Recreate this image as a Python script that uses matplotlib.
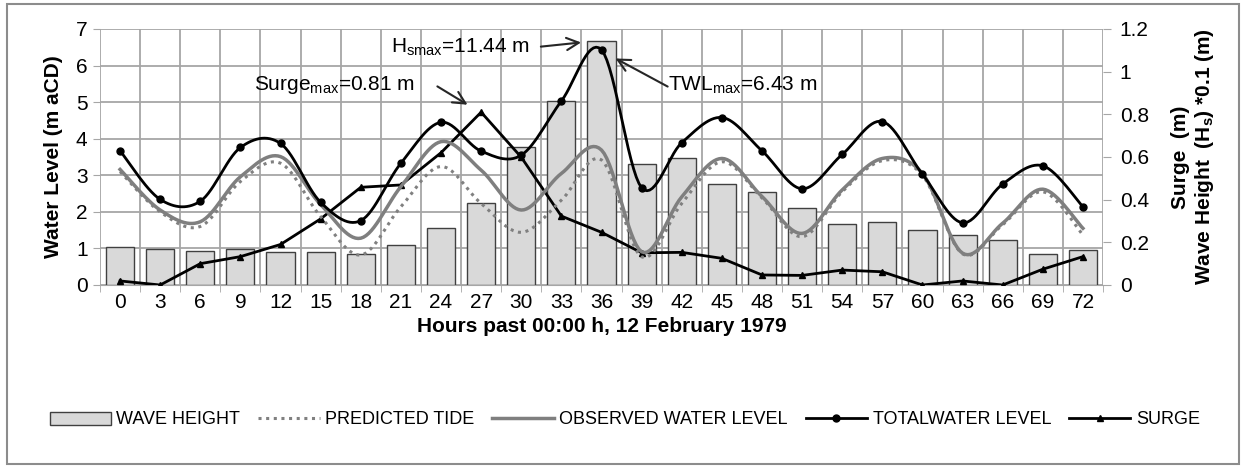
import numpy as np
import matplotlib
matplotlib.use('Agg')
import matplotlib.pyplot as plt
from matplotlib.patches import Patch, Rectangle
from matplotlib.lines import Line2D

plt.rcParams['font.family'] = ['Liberation Sans', 'DejaVu Sans']
plt.rcParams['mathtext.default'] = 'regular'

# hours past 00:00 h, 12 Feb 1979
hours = [0, 3, 6, 9, 12, 15, 18, 21, 24, 27, 30, 33, 36, 39, 42, 45, 48, 51, 54, 57, 60, 63, 66, 69, 72]

# left axis (m aCD)
predicted = [3.10, 2.00, 1.60, 2.83, 3.33, 1.87, 0.82, 2.14, 3.24, 2.23, 1.44, 2.32, 3.42,
             0.77, 2.23, 3.37, 2.38, 1.32, 2.55, 3.40, 3.00, 0.85, 1.65, 2.55, 1.37]
observed = [3.16, 2.05, 1.73, 2.96, 3.51, 2.20, 1.28, 2.69, 3.92, 3.14, 2.05, 3.05, 3.69,
            0.91, 2.41, 3.46, 2.42, 1.41, 2.60, 3.46, 3.05, 0.87, 1.69, 2.62, 1.55]
total = [3.67, 2.34, 2.29, 3.76, 3.87, 2.26, 1.76, 3.33, 4.45, 3.66, 3.55, 5.03, 6.43,
         2.66, 3.89, 4.58, 3.67, 2.63, 3.57, 4.47, 3.03, 1.70, 2.76, 3.26, 2.14]

# right axis (m)
wave = [0.177, 0.167, 0.161, 0.170, 0.156, 0.156, 0.145, 0.188, 0.269, 0.383, 0.645, 0.864, 1.144,
        0.566, 0.594, 0.472, 0.434, 0.362, 0.286, 0.297, 0.259, 0.233, 0.212, 0.145, 0.163]
surge = [0.019, 0.0, 0.100, 0.133, 0.190, 0.310, 0.458, 0.469, 0.620, 0.810, 0.599, 0.323, 0.247,
         0.151, 0.153, 0.125, 0.047, 0.045, 0.070, 0.062, 0.0, 0.019, 0.0, 0.074, 0.133]


def smooth(y, n=16):
    # excel style smoothed line (bezier through the points)
    p = np.column_stack([np.arange(len(y), dtype=float), np.asarray(y, dtype=float)])
    p = np.vstack([p[0], p, p[-1]])
    t = np.linspace(0, 1, n)[:, None]
    out = []
    for i in range(1, len(p) - 2):
        p0, p1, p2, p3 = p[i - 1], p[i], p[i + 1], p[i + 2]
        c1 = p1 + (p2 - p0) / 6
        c2 = p2 - (p3 - p1) / 6
        seg = (1 - t) ** 3 * p1 + 3 * (1 - t) ** 2 * t * c1 + 3 * (1 - t) * t ** 2 * c2 + t ** 3 * p2
        out.append(seg if i == 1 else seg[1:])
    out = np.vstack(out)
    return out[:, 0], out[:, 1]


x = np.arange(len(hours))
fig = plt.figure(figsize=(12.42, 4.67), dpi=100)
rect = [100 / 1242, 1 - 285 / 467, 1003 / 1242, 256 / 467]

ax = fig.add_axes(rect)
ax.set_xlim(-0.5, len(hours) - 0.5)
ax.set_ylim(0, 7)
ax.set_yticks(range(8))
ax.set_xticks(x)
ax.set_xticklabels([str(h) for h in hours])
ax.set_xticks(np.arange(-0.5, len(hours)), minor=True)
ax.grid(True, which='minor', axis='x', color='#a6a6a6', lw=1.3)
ax.grid(True, which='major', axis='y', color='#a6a6a6', lw=1.3)
ax.tick_params(axis='x', which='major', length=0, pad=6, labelsize=15)
ax.tick_params(axis='x', which='minor', length=5, color='#a6a6a6')
ax.tick_params(axis='y', length=5, color='#a6a6a6', labelsize=15, pad=4)
for s in ax.spines.values():
    s.set_visible(False)
ax.spines['bottom'].set_visible(True)
ax.spines['bottom'].set_color('#a6a6a6')
ax.set_ylabel('Water Level (m aCD)', fontsize=15, fontweight='bold', labelpad=9)
ax.set_xlabel('Hours past 00:00 h, 12 February 1979', fontsize=15, fontweight='bold', labelpad=3)

ax2 = ax.twinx()
ax2.set_ylim(0, 1.2)
ax2.set_yticks([0, 0.2, 0.4, 0.6, 0.8, 1.0, 1.2])
ax2.set_yticklabels(['0', '0.2', '0.4', '0.6', '0.8', '1', '1.2'])
ax2.tick_params(axis='y', length=6, color='#a6a6a6', labelsize=15, pad=6)
for s in ax2.spines.values():
    s.set_visible(False)
ax2.bar(x, wave, width=0.7, color='#d9d9d9', edgecolor='#404040', lw=1.0, zorder=2)
ax2.plot(x, surge, color='black', lw=2, marker='^', ms=5, zorder=4)
ax2.set_ylabel('Surge  (m)\nWave Height  ($H_s$) *0.1 (m)', fontsize=15, fontweight='bold',
               multialignment='center', labelpad=16)

ax3 = ax.twinx()
ax3.set_ylim(0, 7)
ax3.axis('off')
sx, sy = smooth(predicted)
ax3.plot(sx, sy, color='#808080', lw=2.2, ls=(0, (1, 1.5)))
sx, sy = smooth(observed)
ax3.plot(sx, sy, color='#7f7f7f', lw=2.5)
sx, sy = smooth(total)
ax3.plot(sx, sy, color='black', lw=2)
ax3.plot(x, total, ls='none', marker='o', color='black', ms=5)

arw = dict(arrowstyle='->', color='#262626', lw=1.5, mutation_scale=22)
ax3.text(10.22, 6.51, '$H_{smax}$=11.44 m', ha='right', va='center', fontsize=15)
ax3.annotate('', xy=(11.56, 6.64), xytext=(10.42, 6.51), arrowprops=arw)
ax3.text(7.35, 5.47, '$Surge_{max}$=0.81 m', ha='right', va='center', fontsize=15)
ax3.annotate('', xy=(8.72, 4.89), xytext=(7.85, 5.47), arrowprops=arw)
ax3.text(13.66, 5.47, '$TWL_{max}$=6.43 m', ha='left', va='center', fontsize=15)
ax3.annotate('', xy=(12.29, 6.23), xytext=(13.71, 5.39), arrowprops=arw)

handles = [Patch(facecolor='#d9d9d9', edgecolor='#404040', lw=1.0),
           Line2D([], [], color='#808080', lw=2.2, ls=(0, (1, 1.5))),
           Line2D([], [], color='#7f7f7f', lw=2.5),
           Line2D([], [], color='black', lw=2, marker='o', ms=5),
           Line2D([], [], color='black', lw=2, marker='^', ms=5)]
labels = ['WAVE HEIGHT', 'PREDICTED TIDE', 'OBSERVED WATER LEVEL', 'TOTALWATER LEVEL', 'SURGE']
fig.legend(handles, labels, loc='center', bbox_to_anchor=(0.503, 1 - 420 / 467), ncol=5,
           frameon=False, fontsize=13, handlelength=3.4, handletextpad=0.3, columnspacing=1.0)

fig.patches.append(Rectangle((7 / 1242, 3 / 467), 1232 / 1242, 460 / 467,
                             transform=fig.transFigure, fill=False, edgecolor='#8c8c8c', lw=1.5))

fig.savefig('out.png', dpi=100)
